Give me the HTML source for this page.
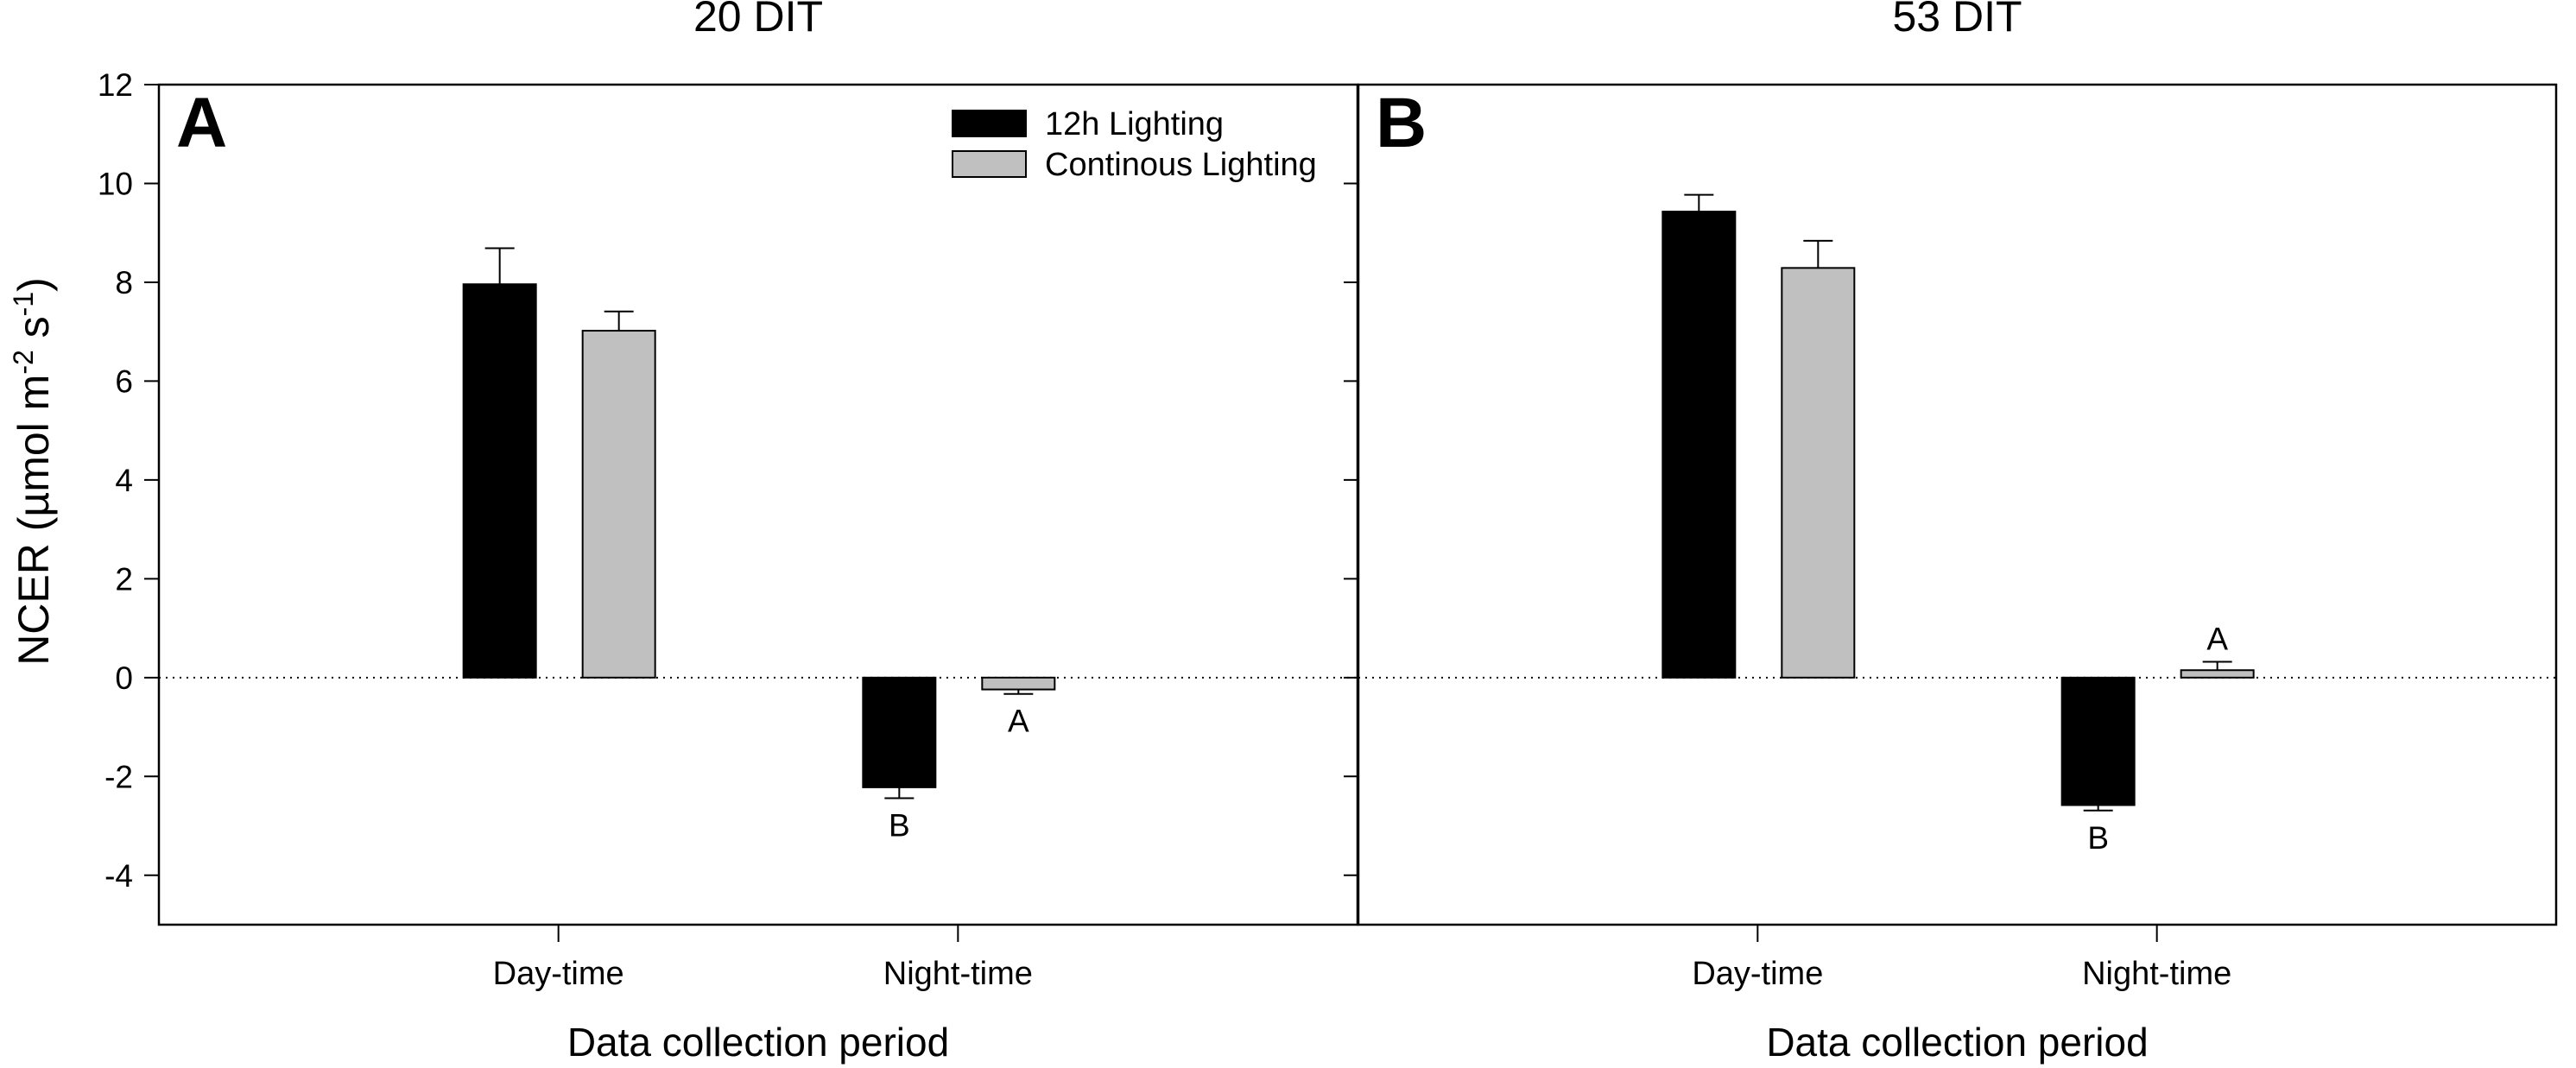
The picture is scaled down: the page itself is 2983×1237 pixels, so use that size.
<!DOCTYPE html>
<html><head><meta charset="utf-8"><style>
html,body{margin:0;padding:0;background:#fff;}
svg{display:block;font-family:"Liberation Sans",Arial,sans-serif;}
</style></head><body>
<svg id="chart" width="2983" height="1237" viewBox="0 0 2983 1237"></svg>
<script>
const categories = ["Day-time", "Night-time"];
const panelTitles = ["20 DIT", "53 DIT"];
const panelLetters = ["A", "B"];
const seriesNames = ["12h Lighting", "Continous Lighting"];
const a12h = [7.96, -2.22];
const a12hErr = [0.73, 0.22];
const aCont = [7.02, -0.24];
const aContErr = [0.39, 0.09];
const b12h = [9.43, -2.58];
const b12hErr = [0.34, 0.11];
const bCont = [8.29, 0.15];
const bContErr = [0.55, 0.17];
const aLetters = [["", ""], ["B", "A"]];
const bLetters = [["", ""], ["B", "A"]];
const yTicks = [-4, -2, 0, 2, 4, 6, 8, 10, 12];
const yMin = -5, yMax = 12;

const NS = "http://www.w3.org/2000/svg";
const svg = document.getElementById("chart");
function mk(tag, attrs, parent) {
  const e = document.createElementNS(NS, tag);
  for (const k in attrs) e.setAttribute(k, attrs[k]);
  (parent || svg).appendChild(e);
  return e;
}
const plotTop = 98, plotBottom = 1071;
function y(v) { return plotBottom - (v - yMin) / (yMax - yMin) * (plotBottom - plotTop); }
const panels = [
  {x0: 184, x1: 1572, s: [a12h, aCont], e: [a12hErr, aContErr], L: aLetters},
  {x0: 1573, x1: 2960, s: [b12h, bCont], e: [b12hErr, bContErr], L: bLetters}
];
const fills = ["#000000", "#c0c0c0"];
const barW = 84, offs = [-68, 70];

panels.forEach((p, pi) => {
  const g = mk("g", {});
  
  
  const xc = i => p.x0 + (p.x1 - p.x0) * (i + 1) / 3;
  const t = mk("text", {x: (p.x0 + p.x1) / 2, y: 36, "font-size": 50, "text-anchor": "middle"}, g);
  t.textContent = panelTitles[pi];
  
  
  const z = mk("line", {x1: p.x0, x2: p.x1, y1: y(0), y2: y(0), stroke: "#000", "stroke-width": 2, "stroke-dasharray": "2 6"}, g);
  
  
  yTicks.forEach(v => {
    const tk = mk("line", {x1: p.x0 - 17, x2: p.x0, y1: y(v), y2: y(v), stroke: "#000", "stroke-width": 2}, g);
    
    
    if (pi === 0) {
      const tl = mk("text", {x: 154, y: y(v) + 13, "font-size": 37, "text-anchor": "end"}, g);
      tl.textContent = v;
      
      
    }
  });
  categories.forEach((c, ci) => {
    const tk = mk("line", {x1: xc(ci), x2: xc(ci), y1: plotBottom, y2: plotBottom + 20, stroke: "#000", "stroke-width": 2}, g);
    
    
    const cl = mk("text", {x: xc(ci), y: 1140, "font-size": 38, "text-anchor": "middle"}, g);
    cl.textContent = c;
    
    
    p.s.forEach((ser, si) => {
      const v = ser[ci], err = p.e[si][ci];
      const cx = xc(ci) + offs[si];
      const ytop = Math.min(y(v), y(0)), h = Math.abs(y(v) - y(0));
      const sign = v >= 0 ? 1 : -1;
      const ye = y(v + sign * err);
      const el = mk("line", {x1: cx, x2: cx, y1: y(v), y2: ye, stroke: "#000", "stroke-width": 2}, g);
      
      
      const cap = mk("line", {x1: cx - 17, x2: cx + 17, y1: ye, y2: ye, stroke: "#000", "stroke-width": 2}, g);
      
      
      const r = mk("rect", {x: cx - barW / 2, y: ytop, width: barW, height: h, fill: fills[si], stroke: "#000", "stroke-width": 2}, g);
      
      
      const lt = p.L[ci][si];
      if (lt) {
        const ly = v >= 0 ? ye - 14 : ye + 44;
        const lbl = mk("text", {x: cx, y: ly, "font-size": 37, "text-anchor": "middle"}, g);
        lbl.textContent = lt;
        
        
      }
    });
  });
  const fr = mk("rect", {x: p.x0, y: plotTop, width: p.x1 - p.x0, height: plotBottom - plotTop, fill: "none", stroke: "#000", "stroke-width": 2.5}, g);
  
  
  const pl = mk("text", {x: p.x0 + 20, y: 170, "font-size": 82, "font-weight": "bold"}, g);
  pl.textContent = panelLetters[pi];
  
  
  const xt = mk("text", {x: (p.x0 + p.x1) / 2, y: 1223, "font-size": 46, "text-anchor": "middle"}, g);
  xt.textContent = "Data collection period";
  
  
});

const lg = mk("g", {});


seriesNames.forEach((n, i) => {
  const yy = 128 + i * 47;
  const sw = mk("rect", {x: 1103, y: yy, width: 85, height: 30, fill: fills[i], stroke: "#000", "stroke-width": 2}, lg);
  
  
  const tx = mk("text", {x: 1210, y: yy + 28, "font-size": 38}, lg);
  tx.textContent = n;
  
  
});

const yt = mk("text", {x: 0, y: 0, "font-size": 50, "text-anchor": "middle", transform: "translate(56,546) rotate(-90)"});


yt.innerHTML = 'NCER (µmol m<tspan dy="-18" font-size="32">-2</tspan><tspan dy="18"> s</tspan><tspan dy="-18" font-size="32">-1</tspan><tspan dy="18">)</tspan>';
</script>
</body></html>
